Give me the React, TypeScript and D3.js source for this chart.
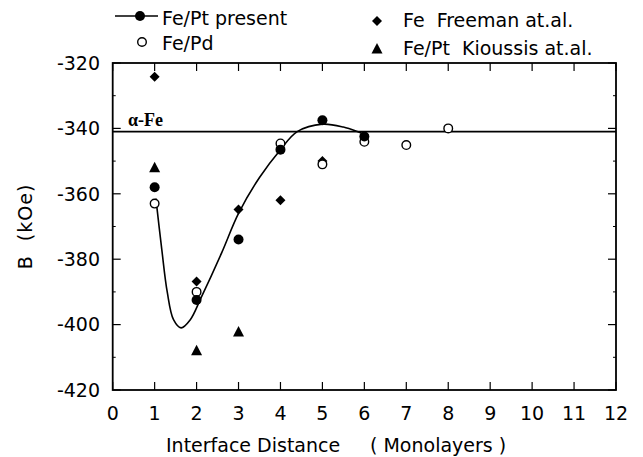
import React from "react";
import * as d3 from "d3";

// ---- data ----
const xTicks = [0, 1, 2, 3, 4, 5, 6, 7, 8, 9, 10, 11, 12];
const yTicks = [-320, -340, -360, -380, -400, -420];
const yMinorTicks = [-330, -350, -370, -390, -410];

const fePtPresentX = [1, 2, 3, 4, 5, 6];
const fePtPresentY = [-358, -392.5, -374, -346.5, -337.5, -342.5];

const fePdX = [1, 2, 4, 5, 6, 7, 8];
const fePdY = [-363, -390, -344.6, -351, -344.1, -345.1, -340];

const freemanX = [1, 2, 3, 4, 5];
const freemanY = [-324.2, -386.8, -364.8, -362, -350];

const kioussisX = [1, 2, 3];
const kioussisY = [-352, -408, -402.3];

// fitted curve drawn through the present Fe/Pt results
const curveX = [1.03, 1.17, 1.3, 1.45, 1.63, 1.85, 2.1, 2.6, 3.0, 3.5, 4.0, 4.4, 5.0, 5.5, 6.0];
const curveY = [-361.5, -377, -390, -398.5, -401, -398.5, -392, -378, -366, -355, -346.5, -341, -338.7, -339.6, -341.8];

const alphaFe = -341;

const W = 643;
const H = 457;
const FONT = "'DejaVu Sans', sans-serif";

export default function App() {
  const x = d3.scaleLinear().domain([0, 12]).range([112.7, 616]);
  const y = d3.scaleLinear().domain([-420, -320]).range([390, 63]);
  const [x0, x1] = x.range();
  const [yb, yt] = y.range();

  const line = d3
    .line<[number, number]>()
    .x((d) => x(d[0]))
    .y((d) => y(d[1]))
    .curve(d3.curveCatmullRom.alpha(0.5));
  const curvePts: [number, number][] = curveX.map((v, i) => [v, curveY[i]]);

  const diamond = (cx: number, cy: number, r: number) =>
    `M${cx},${cy - r}L${cx + r},${cy}L${cx},${cy + r}L${cx - r},${cy}Z`;
  const triangle = (cx: number, cy: number, s: number) =>
    `M${cx},${cy - s * 0.6}L${cx + s * 0.55},${cy + s * 0.45}L${cx - s * 0.55},${cy + s * 0.45}Z`;

  const tickLen = 8;

  return (
    <svg
      width={W}
      height={H}
      style={{ position: "absolute", left: 0, top: 0, background: "#fff" }}
      fontFamily={FONT}
    >
      <rect x={0} y={0} width={W} height={H} fill="#fff" />

      {/* alpha-Fe reference line */}
      <line x1={x0} x2={x1} y1={y(alphaFe)} y2={y(alphaFe)} stroke="#000" strokeWidth={1.6} />
      <text
        x={128}
        y={y(alphaFe) - 6}
        fontFamily="'Liberation Serif', 'Times New Roman', serif"
        fontWeight="bold"
        fontSize={18}
      >
        α-Fe
      </text>

      {/* ticks */}
      {xTicks.map((t) => (
        <g key={"xt" + t}>
          <line x1={x(t)} x2={x(t)} y1={yb} y2={yb - tickLen} stroke="#000" strokeWidth={1.2} />
          <line x1={x(t)} x2={x(t)} y1={yt} y2={yt + tickLen} stroke="#000" strokeWidth={1.2} />
          <text x={x(t)} y={420} fontSize={19} textAnchor="middle">
            {t}
          </text>
        </g>
      ))}
      {yTicks.map((t) => (
        <g key={"yt" + t}>
          <line x1={x0} x2={x0 + tickLen} y1={y(t)} y2={y(t)} stroke="#000" strokeWidth={1.2} />
          <line x1={x1} x2={x1 - tickLen} y1={y(t)} y2={y(t)} stroke="#000" strokeWidth={1.2} />
          <text x={100} y={y(t)} dy="0.36em" fontSize={19} textAnchor="end">
            {t}
          </text>
        </g>
      ))}
      {yMinorTicks.map((t) => (
        <g key={"ym" + t}>
          <line x1={x0} x2={x0 + 3} y1={y(t)} y2={y(t)} stroke="#000" strokeWidth={1} />
          <line x1={x1} x2={x1 - 3} y1={y(t)} y2={y(t)} stroke="#000" strokeWidth={1} />
        </g>
      ))}

      {/* frame */}
      <rect x={x0} y={yt} width={x1 - x0} height={yb - yt} fill="none" stroke="#000" strokeWidth={1.8} />

      {/* fitted curve */}
      <path d={line(curvePts) || ""} fill="none" stroke="#000" strokeWidth={1.6} />

      {/* Freeman diamonds */}
      {freemanX.map((v, i) => (
        <path key={"fd" + i} d={diamond(x(v), y(freemanY[i]), 5)} fill="#000" />
      ))}
      {/* Kioussis triangles */}
      {kioussisX.map((v, i) => (
        <path key={"kt" + i} d={triangle(x(v), y(kioussisY[i]), 10)} fill="#000" />
      ))}
      {/* Fe/Pd open circles */}
      {fePdX.map((v, i) => (
        <circle key={"oc" + i} cx={x(v)} cy={y(fePdY[i])} r={4.3} fill="#fff" stroke="#000" strokeWidth={1.4} />
      ))}
      {/* Fe/Pt present filled circles */}
      {fePtPresentX.map((v, i) => (
        <circle key={"fc" + i} cx={x(v)} cy={y(fePtPresentY[i])} r={5} fill="#000" />
      ))}

      {/* legend */}
      <line x1={115} x2={158} y1={16} y2={16} stroke="#000" strokeWidth={1.6} />
      <circle cx={140} cy={16} r={5} fill="#000" />
      <text x={162} y={25} fontSize={19}>Fe/Pt present</text>
      <circle cx={142} cy={42} r={4.3} fill="#fff" stroke="#000" strokeWidth={1.4} />
      <text x={162} y={50} fontSize={19}>Fe/Pd</text>

      <path d={diamond(377, 21, 5)} fill="#000" />
      <text x={403} y={27} fontSize={19} style={{ whiteSpace: "pre" }}>
        {"Fe  Freeman at.al."}
      </text>
      <path d={triangle(377, 49, 10)} fill="#000" />
      <text x={403} y={55} fontSize={19} style={{ whiteSpace: "pre" }}>
        {"Fe/Pt  Kioussis at.al."}
      </text>

      {/* axis titles */}
      <text x={166} y={452} fontSize={19}>Interface Distance</text>
      <text x={370} y={452} fontSize={19} style={{ whiteSpace: "pre" }}>
        {"( Monolayers )"}
      </text>
      <text
        transform={`translate(32, ${(yt + yb) / 2}) rotate(-90)`}
        textAnchor="middle"
        fontSize={19}
        style={{ whiteSpace: "pre" }}
        letterSpacing={1}
      >
        {"B  (kOe)"}
      </text>
    </svg>
  );
}
